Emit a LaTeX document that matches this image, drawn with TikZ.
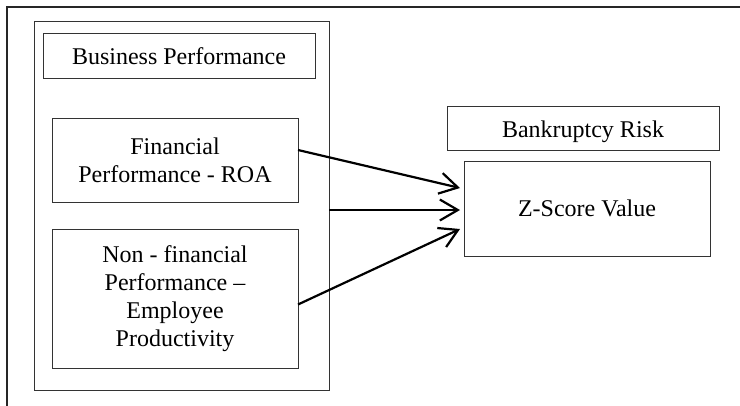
\documentclass[tikz,border=0pt]{standalone}
\usepackage{fontspec}
\setmainfont{Liberation Serif}
\usetikzlibrary{arrows.meta,calc}
\tikzset{
  box/.style={draw=black!80, line width=1pt, inner sep=0pt, outer sep=0pt, align=center,
    font=\fontsize{24}{28}\selectfont},
  conn/.style={line width=2.2pt, -{Straight Barb[length=18pt,width=21pt,line width=2.2pt]}},
}
\begin{document}
\begin{tikzpicture}[x=1pt,y=-1pt]
\clip (0,0) rectangle (740,405);
\fill[white] (0,0) rectangle (740,405);
% outer frame (partly outside the picture)
\draw[line width=1.3pt, black!85] (7,420) -- (7,7) -- (760,7);
% group box
\node[box, minimum width=295pt, minimum height=369pt] (grp) at (181.5,205.5) {};
\node[box, minimum width=272pt, minimum height=45pt] (bp) at (179,55.5) {};
\node[font=\fontsize{24}{28}\selectfont, anchor=base] (bpt) at (179,64.5) {Business Performance};
\node[box, minimum width=246pt, minimum height=84pt] (fin) at (175,160) {Financial\\Performance - ROA};
\node[box, minimum width=246pt, minimum height=139pt] (nfin) at (175,298.5) {Non - financial\\Performance –\\Employee\\Productivity};
\node[box, minimum width=272pt, minimum height=44pt] (br) at (583,128) {};
\node[font=\fontsize{24}{28}\selectfont, anchor=base] (brt) at (583,137.5) {Bankruptcy Risk};
\node[box, minimum width=246pt, minimum height=95pt] (z) at (587,208.5) {Z-Score Value};
% connectors
\draw[conn] ($(fin.east)+(0,-10)$) -- ($(z.west)+(-4,-20.5)$);
\draw[conn] ($(grp.east)+(0,4.5)$) -- ($(z.west)+(-4,1.5)$);
\draw[conn] ($(nfin.east)+(0,6)$) -- ($(z.west)+(-4,20.5)$);
\end{tikzpicture}
\end{document}
